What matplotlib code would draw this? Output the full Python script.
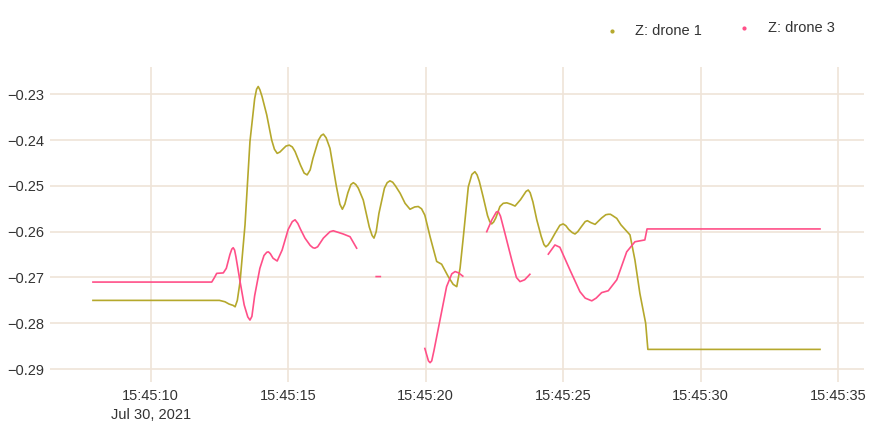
import numpy as np
import matplotlib
matplotlib.use("Agg")
import matplotlib.pyplot as plt
from matplotlib.lines import Line2D

plt.rcParams['font.family'] = ['Liberation Sans', 'DejaVu Sans']

nan = float('nan')

# seconds after 15:45:00, Z value
drone1 = [
    (7.90, -0.2750), (12.50, -0.2750), (12.70, -0.2753), (12.85, -0.2758), (13.00, -0.2761),
    (13.07, -0.2764), (13.15, -0.2750), (13.25, -0.2709), (13.43, -0.2585), (13.61, -0.2403),
    (13.78, -0.2310), (13.85, -0.2289), (13.91, -0.2283), (13.97, -0.2290), (14.05, -0.2305),
    (14.22, -0.2345), (14.40, -0.2400), (14.50, -0.2420), (14.60, -0.2429), (14.70, -0.2426),
    (14.80, -0.2420), (14.92, -0.2413), (15.04, -0.2411), (15.15, -0.2415), (15.25, -0.2425),
    (15.45, -0.2455), (15.58, -0.2472), (15.69, -0.2476), (15.80, -0.2465), (15.90, -0.2440),
    (16.10, -0.2400), (16.20, -0.2390), (16.28, -0.2387), (16.38, -0.2395), (16.52, -0.2418),
    (16.75, -0.2500), (16.88, -0.2540), (16.97, -0.2551), (17.06, -0.2540), (17.17, -0.2515),
    (17.28, -0.2497), (17.37, -0.2493), (17.46, -0.2497), (17.55, -0.2505), (17.73, -0.2531),
    (17.95, -0.2590), (18.05, -0.2608), (18.12, -0.2614), (18.20, -0.2600), (18.30, -0.2560),
    (18.50, -0.2505), (18.60, -0.2493), (18.70, -0.2489), (18.80, -0.2492), (18.90, -0.2500),
    (19.07, -0.2516), (19.25, -0.2538), (19.43, -0.2551), (19.60, -0.2546), (19.73, -0.2545),
    (19.85, -0.2550), (19.97, -0.2564), (20.16, -0.2611), (20.40, -0.2665), (20.58, -0.2671),
    (20.82, -0.2698), (21.00, -0.2715), (21.13, -0.2720), (21.25, -0.2680), (21.37, -0.2611),
    (21.55, -0.2502), (21.68, -0.2475), (21.79, -0.2469), (21.87, -0.2476), (21.95, -0.2490),
    (22.09, -0.2524), (22.25, -0.2565), (22.33, -0.2578), (22.40, -0.2583), (22.47, -0.2579),
    (22.55, -0.2570), (22.70, -0.2545), (22.82, -0.2538), (22.95, -0.2537), (23.10, -0.2540),
    (23.25, -0.2544), (23.45, -0.2530), (23.65, -0.2512), (23.73, -0.2509), (23.80, -0.2515),
    (23.90, -0.2535), (24.04, -0.2574), (24.20, -0.2610), (24.30, -0.2628), (24.37, -0.2633),
    (24.45, -0.2629), (24.55, -0.2620), (24.70, -0.2604), (24.88, -0.2586), (25.00, -0.2583),
    (25.10, -0.2587), (25.20, -0.2595), (25.33, -0.2602), (25.43, -0.2605), (25.53, -0.2600),
    (25.65, -0.2590), (25.80, -0.2578), (25.88, -0.2576), (26.00, -0.2580), (26.16, -0.2584),
    (26.40, -0.2570), (26.55, -0.2563), (26.64, -0.2562), (26.72, -0.2562), (26.80, -0.2565),
    (26.95, -0.2571), (27.10, -0.2585), (27.25, -0.2595), (27.43, -0.2607), (27.61, -0.2662),
    (27.79, -0.2735), (28.00, -0.2800), (28.08, -0.2857), (34.34, -0.2857),
]

drone3 = [
    (7.90, -0.2710), (12.22, -0.2710), (12.32, -0.2700), (12.40, -0.2691), (12.64, -0.2690),
    (12.75, -0.2680), (12.88, -0.2650), (12.95, -0.2638), (13.00, -0.2635), (13.05, -0.2640),
    (13.10, -0.2655), (13.25, -0.2709), (13.40, -0.2760), (13.53, -0.2786), (13.61, -0.2793),
    (13.68, -0.2785), (13.78, -0.2740), (13.97, -0.2680), (14.12, -0.2652), (14.22, -0.2645),
    (14.28, -0.2644), (14.35, -0.2648), (14.45, -0.2658), (14.60, -0.2664), (14.78, -0.2640),
    (15.00, -0.2595), (15.15, -0.2578), (15.25, -0.2574), (15.35, -0.2582), (15.45, -0.2595),
    (15.61, -0.2614), (15.80, -0.2630), (15.90, -0.2635), (15.97, -0.2636), (16.07, -0.2633),
    (16.28, -0.2614), (16.52, -0.2600), (16.64, -0.2598), (17.00, -0.2605), (17.25, -0.2611),
    (17.49, -0.2636), (17.80, nan),
    (18.20, -0.2698), (18.35, -0.2698), (19.00, nan),
    (19.97, -0.2855), (20.10, -0.2882), (20.16, -0.2886), (20.22, -0.2882), (20.30, -0.2860),
    (20.52, -0.2793), (20.76, -0.2720), (20.95, -0.2692), (21.07, -0.2687), (21.20, -0.2690),
    (21.35, -0.2697), (21.80, nan),
    (22.22, -0.2600), (22.40, -0.2575), (22.57, -0.2557), (22.64, -0.2556), (22.72, -0.2566),
    (22.88, -0.2603), (23.13, -0.2662), (23.30, -0.2700), (23.43, -0.2709), (23.60, -0.2705),
    (23.79, -0.2693), (24.10, nan),
    (24.46, -0.2649), (24.70, -0.2629), (24.88, -0.2634), (25.25, -0.2684), (25.61, -0.2731),
    (25.80, -0.2745), (26.04, -0.2751), (26.20, -0.2745), (26.40, -0.2733), (26.64, -0.2729),
    (26.95, -0.2705), (27.31, -0.2644), (27.61, -0.2622), (27.97, -0.2618), (28.05, -0.2594),
    (34.34, -0.2594),
]

d1_t = [p[0] for p in drone1]
d1_z = [p[1] for p in drone1]
d3_t = [p[0] for p in drone3]
d3_z = [p[1] for p in drone3]

y_ticks = [-0.29, -0.28, -0.27, -0.26, -0.25, -0.24, -0.23]
x_ticks = [10, 15, 20, 25, 30, 35]
x_labels = ["15:45:10\nJul 30, 2021", "15:45:15", "15:45:20", "15:45:25", "15:45:30", "15:45:35"]
series_names = ["Z: drone 1", "Z: drone 3"]
colors = ["#b5a82c", "#ff4f88"]

fig = plt.figure(figsize=(8.8, 4.33), dpi=100)
ax = fig.add_axes([50/880, 1-382/433, (864-50)/880, (382-67)/433])

ax.plot(d1_t, d1_z, color=colors[0], lw=1.2, solid_joinstyle='round')
ax.plot(d3_t, d3_z, color=colors[1], lw=1.2, solid_joinstyle='round')

ax.set_xlim(6.338, 35.94)
ax.set_ylim(-0.29282, -0.22404)
ax.set_yticks(y_ticks)
ax.set_yticklabels(["\u2212%.2f" % abs(v) for v in y_ticks])
ax.set_xticks(x_ticks)
ax.set_xticklabels(x_labels)
for s in ax.spines.values():
    s.set_visible(False)
ax.grid(True, color="#efe4d8", lw=1.2)
ax.set_axisbelow(True)
ax.tick_params(length=0, labelsize=10.5, labelcolor="#333333")
ax.tick_params(axis='y', pad=4)
ax.tick_params(axis='x', pad=5)
for lab in ax.get_xticklabels():
    lab.set_linespacing(1.5)

# legend
leg_pos = [(612.3, 30.7, 635, 30.7), (744, 28.3, 767.7, 28.3)]
for (mx, my, tx, ty), name, c in zip(leg_pos, series_names, colors):
    fig.add_artist(Line2D([mx/880], [1-my/433], transform=fig.transFigure, marker='o',
                          ms=2.0, color=c, ls=''))
    fig.text(tx/880, 1-ty/433, name, ha='left', va='center', fontsize=10.5, color="#333333")

fig.savefig("out.png", dpi=100)
